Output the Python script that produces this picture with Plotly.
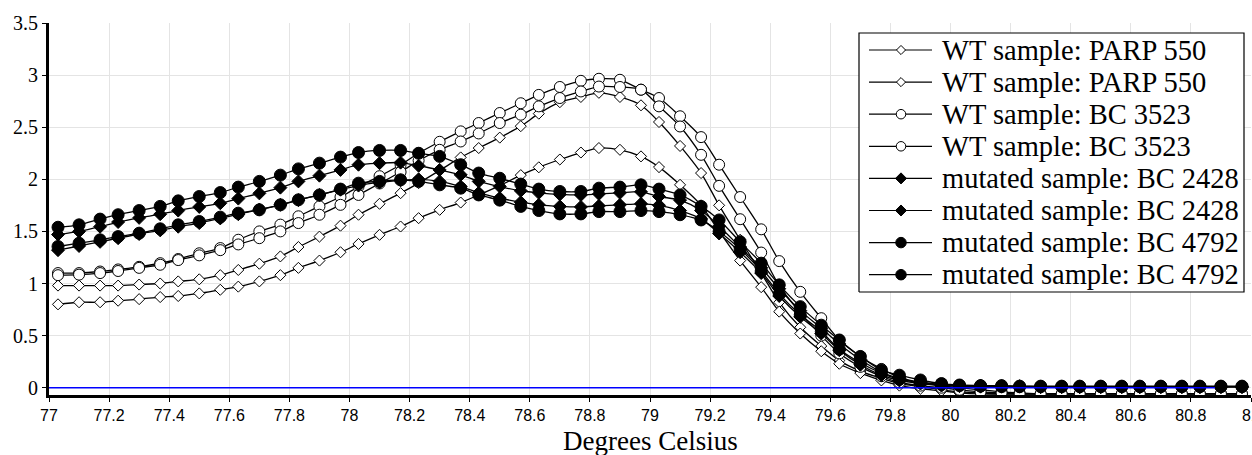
import plotly.graph_objects as go

# ---------------- data ----------------
temps = [77.03, 77.10, 77.17, 77.23, 77.30, 77.37, 77.43, 77.50, 77.57, 77.63,
         77.70, 77.77, 77.83, 77.90, 77.97, 78.03, 78.10, 78.17, 78.23, 78.30,
         78.37, 78.43, 78.50, 78.57, 78.63, 78.70, 78.77, 78.83, 78.90, 78.97,
         79.03, 79.10, 79.17, 79.23, 79.30, 79.37, 79.43, 79.50, 79.57, 79.63,
         79.70, 79.77, 79.83, 79.90, 79.97, 80.03, 80.10, 80.17, 80.23, 80.30,
         80.37, 80.43, 80.50, 80.57, 80.63, 80.70, 80.77, 80.83, 80.90, 80.97]

wt_parp_1 = [0.98, 0.98, 0.98, 0.98, 0.99, 1.00, 1.02, 1.04, 1.08, 1.13,
             1.19, 1.26, 1.35, 1.45, 1.555, 1.66, 1.765, 1.867, 1.963, 2.085,
             2.21, 2.30, 2.40, 2.51, 2.63, 2.74, 2.79, 2.83, 2.79, 2.71,
             2.55, 2.32, 2.06, 1.75, 1.42, 1.10, 0.82, 0.58, 0.40, 0.26,
             0.16, 0.09, 0.04, 0.01, -0.02, -0.04, -0.05, -0.06, -0.06, -0.06,
             -0.06, -0.06, -0.06, -0.06, -0.06, -0.06, -0.06, -0.06, -0.06, -0.06]

wt_parp_2 = [0.80, 0.82, 0.82, 0.835, 0.85, 0.87, 0.88, 0.905, 0.94, 0.97,
             1.02, 1.08, 1.15, 1.22, 1.30, 1.38, 1.467, 1.547, 1.627, 1.707,
             1.777, 1.85, 1.94, 2.04, 2.115, 2.19, 2.257, 2.30, 2.283, 2.22,
             2.117, 1.947, 1.75, 1.50, 1.22, 0.965, 0.73, 0.52, 0.35, 0.23,
             0.14, 0.07, 0.02, -0.01, -0.03, -0.05, -0.06, -0.06, -0.06, -0.06,
             -0.06, -0.06, -0.06, -0.06, -0.06, -0.06, -0.06, -0.06, -0.06, -0.06]

wt_bc3523_1 = [1.10, 1.10, 1.115, 1.135, 1.16, 1.195, 1.235, 1.29, 1.34, 1.42,
               1.50, 1.565, 1.645, 1.74, 1.83, 1.93, 2.03, 2.14, 2.25, 2.36,
               2.46, 2.54, 2.636, 2.73, 2.81, 2.886, 2.945, 2.965, 2.955, 2.86,
               2.78, 2.605, 2.405, 2.14, 1.83, 1.52, 1.215, 0.92, 0.667, 0.458,
               0.30, 0.18, 0.10, 0.05, 0.02, 0.0, -0.02, -0.04, -0.05, -0.06,
               -0.06, -0.06, -0.06, -0.06, -0.06, -0.06, -0.06, -0.06, -0.06, -0.06]

wt_bc3523_2 = [1.08, 1.085, 1.10, 1.12, 1.15, 1.18, 1.225, 1.27, 1.32, 1.375,
               1.435, 1.50, 1.58, 1.66, 1.755, 1.85, 1.96, 2.07, 2.18, 2.283,
               2.363, 2.44, 2.54, 2.62, 2.70, 2.78, 2.843, 2.89, 2.886, 2.86,
               2.70, 2.507, 2.235, 1.937, 1.617, 1.297, 0.98, 0.72, 0.50, 0.33,
               0.20, 0.11, 0.05, 0.02, 0.0, -0.02, -0.04, -0.05, -0.06, -0.06,
               -0.06, -0.06, -0.06, -0.06, -0.06, -0.06, -0.06, -0.06, -0.06, -0.06]

mut_bc2428_1 = [1.47, 1.50, 1.545, 1.59, 1.63, 1.665, 1.70, 1.735, 1.77, 1.815,
                1.865, 1.92, 1.98, 2.035, 2.09, 2.14, 2.155, 2.16, 2.13, 2.09,
                2.043, 1.98, 1.93, 1.89, 1.87, 1.855, 1.85, 1.86, 1.87, 1.88,
                1.835, 1.80, 1.70, 1.55, 1.35, 1.15, 0.95, 0.74, 0.57, 0.42,
                0.27, 0.15, 0.09, 0.05, 0.03, 0.02, 0.02, 0.015, 0.015, 0.01,
                0.01, 0.01, 0.01, 0.01, 0.01, 0.01, 0.01, 0.01, 0.01, 0.01]

mut_bc2428_2 = [1.32, 1.36, 1.40, 1.435, 1.475, 1.51, 1.545, 1.58, 1.625, 1.665,
                1.71, 1.755, 1.80, 1.85, 1.90, 1.94, 1.97, 1.99, 2.00, 1.98,
                1.93, 1.87, 1.82, 1.78, 1.755, 1.74, 1.735, 1.745, 1.755, 1.765,
                1.75, 1.70, 1.62, 1.48, 1.30, 1.10, 0.88, 0.68, 0.52, 0.36,
                0.22, 0.12, 0.07, 0.04, 0.02, 0.015, 0.01, 0.01, 0.01, 0.005,
                0.005, 0.005, 0.005, 0.005, 0.005, 0.005, 0.005, 0.005, 0.005, 0.005]

mut_bc4792_1 = [1.54, 1.563, 1.618, 1.66, 1.70, 1.74, 1.793, 1.835, 1.873, 1.925,
                1.98, 2.04, 2.10, 2.155, 2.213, 2.257, 2.277, 2.277, 2.25, 2.22,
                2.14, 2.06, 2.01, 1.954, 1.906, 1.883, 1.883, 1.915, 1.925, 1.947,
                1.906, 1.85, 1.74, 1.61, 1.40, 1.195, 0.987, 0.778, 0.60, 0.458,
                0.30, 0.17, 0.12, 0.074, 0.04, 0.026, 0.02, 0.02, 0.015, 0.015,
                0.015, 0.015, 0.015, 0.015, 0.015, 0.015, 0.015, 0.015, 0.015, 0.015]

mut_bc4792_2 = [1.355, 1.387, 1.419, 1.45, 1.483, 1.525, 1.563, 1.595, 1.637, 1.675,
                1.707, 1.755, 1.803, 1.85, 1.906, 1.963, 1.98, 1.995, 1.98, 1.947,
                1.915, 1.85, 1.80, 1.74, 1.70, 1.668, 1.668, 1.69, 1.69, 1.70,
                1.69, 1.66, 1.61, 1.50, 1.33, 1.12, 0.90, 0.70, 0.54, 0.37,
                0.24, 0.14, 0.08, 0.05, 0.03, 0.02, 0.015, 0.01, 0.01, 0.01,
                0.01, 0.01, 0.01, 0.01, 0.01, 0.01, 0.01, 0.01, 0.01, 0.01]

series_names = ["WT sample: PARP 550", "WT sample: PARP 550",
                "WT sample: BC 3523", "WT sample: BC 3523",
                "mutated sample: BC 2428", "mutated sample: BC 2428",
                "mutated sample: BC 4792", "mutated sample: BC 4792"]
series_values = [wt_parp_1, wt_parp_2, wt_bc3523_1, wt_bc3523_2,
                 mut_bc2428_1, mut_bc2428_2, mut_bc4792_1, mut_bc4792_2]

x_tick_values = [77, 77.2, 77.4, 77.6, 77.8, 78, 78.2, 78.4, 78.6, 78.8, 79,
                 79.2, 79.4, 79.6, 79.8, 80, 80.2, 80.4, 80.6, 80.8, 81]
y_tick_values = [0, 0.5, 1, 1.5, 2, 2.5, 3, 3.5]

baseline_x = [77.0, 80.88]
baseline_y = [0.0, 0.0]

x_title = "Degrees Celsius"

# ---------------- styles ----------------
styles = [
    dict(symbol="diamond", color="white", size=8.5),
    dict(symbol="diamond", color="white", size=8.5),
    dict(symbol="circle", color="white", size=11),
    dict(symbol="circle", color="white", size=11),
    dict(symbol="diamond", color="black", size=10),
    dict(symbol="diamond", color="black", size=10),
    dict(symbol="circle", color="black", size=12),
    dict(symbol="circle", color="black", size=12),
]

W, H = 1252, 455
ML, MR, MT, MB = 49, 1, 23, 60

fig = go.Figure()

for name, vals, st in zip(series_names, series_values, styles):
    fig.add_trace(go.Scatter(
        x=temps, y=vals, name=name, mode="lines+markers",
        line=dict(color="black", width=1.3, shape="spline", smoothing=0.8),
        marker=dict(symbol=st["symbol"], color=st["color"], size=st["size"],
                    line=dict(color="black", width=1)),
        showlegend=False))

fig.add_trace(go.Scatter(x=baseline_x, y=baseline_y, mode="lines",
                         line=dict(color="#0000ff", width=1.5),
                         showlegend=False, hoverinfo="skip"))

# ---------------- custom legend (layout, in plot-domain fractions) ----------------
pw = W - ML - MR
ph = H - MT - MB


def fx(px):
    return (px - ML) / pw


def fy(py):
    return (H - MB - py) / ph


box_l, box_r, box_t, box_b = 859, 1244, 33, 292
row0, row_step = 50, 32.1
line_l, line_r, mark_x, text_x = 869, 932, 901, 940

# white legend panel (drawn on the overlay axes so it sits above the grid)
fig.add_trace(go.Scatter(
    x=[fx(box_l), fx(box_r), fx(box_r), fx(box_l), fx(box_l)],
    y=[fy(box_b), fy(box_b), fy(box_t), fy(box_t), fy(box_b)],
    mode="lines", fill="toself", fillcolor="white",
    line=dict(color="black", width=1.2),
    xaxis="x2", yaxis="y2", showlegend=False, hoverinfo="skip"))

for i, (name, st) in enumerate(zip(series_names, styles)):
    ry = fy(row0 + i * row_step)
    fig.add_trace(go.Scatter(x=[fx(line_l), fx(line_r)], y=[ry, ry], mode="lines",
                             line=dict(color="black", width=1.2),
                             xaxis="x2", yaxis="y2", showlegend=False, hoverinfo="skip"))
    fig.add_trace(go.Scatter(x=[fx(mark_x)], y=[ry], mode="markers",
                             marker=dict(symbol=st["symbol"], color=st["color"],
                                         size=st["size"] - 1.5,
                                         line=dict(color="black", width=1)),
                             xaxis="x2", yaxis="y2", showlegend=False, hoverinfo="skip"))
    fig.add_annotation(xref="paper", yref="paper", x=fx(text_x), y=ry,
                       text=name, showarrow=False, xanchor="left", yanchor="middle",
                       font=dict(family="Liberation Serif", size=28.5, color="black"))

# x-axis title
fig.add_annotation(xref="paper", yref="paper", x=0.5, y=fy(441),
                   text=x_title, showarrow=False, xanchor="center", yanchor="middle",
                   font=dict(family="Liberation Serif", size=27, color="black"))

fig.update_layout(
    width=W, height=H,
    margin=dict(l=ML, r=MR, t=MT, b=MB, pad=0),
    paper_bgcolor="white", plot_bgcolor="white",
    showlegend=False,
    xaxis=dict(range=[77, 81], tickmode="array", tickvals=x_tick_values,
               automargin=False, ticklabeloverflow="allow",
               showgrid=True, gridcolor="#e4e4e4", gridwidth=1, zeroline=False,
               showline=True, linecolor="black", linewidth=3,
               ticks="outside", ticklen=4, tickcolor="black",
               tickfont=dict(family="Liberation Sans", size=16, color="black")),
    yaxis=dict(range=[-0.07, 3.5], tickmode="array", tickvals=y_tick_values,
               automargin=False,
               showgrid=True, gridcolor="#e4e4e4", gridwidth=1, zeroline=False,
               showline=True, linecolor="black", linewidth=3,
               ticks="outside", ticklen=4, tickcolor="black",
               tickfont=dict(family="Liberation Serif", size=20, color="black")),
    xaxis2=dict(overlaying="x", range=[0, 1], visible=False, fixedrange=True),
    yaxis2=dict(overlaying="y", range=[0, 1], visible=False, fixedrange=True),
)

fig.write_html("out.html",
               config={"displayModeBar": False},
               post_script="document.body.style.margin='0';"
                           "document.body.style.padding='0';"
                           "document.body.style.overflow='hidden';")
